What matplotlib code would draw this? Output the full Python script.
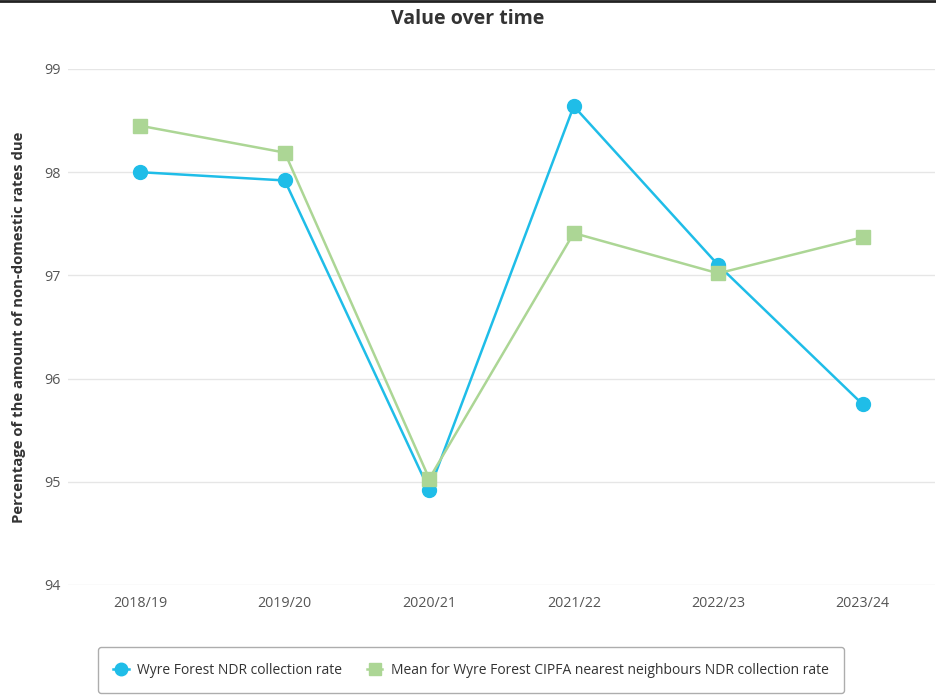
import matplotlib
matplotlib.use("Agg")
from matplotlib import pyplot as plt
from matplotlib.lines import Line2D

plt.rcParams['font.family'] = ['Open Sans', 'DejaVu Sans']

years = ['2018/19', '2019/20', '2020/21', '2021/22', '2022/23', '2023/24']
wyre = [98.00, 97.92, 94.92, 98.64, 97.10, 95.75]
mean_nn = [98.45, 98.19, 95.03, 97.41, 97.02, 97.37]
yticks = [94, 95, 96, 97, 98, 99]

blue = '#1fbde8'
green = '#acd695'

fig = plt.figure(figsize=(9.36, 6.97), dpi=100)
ax = fig.add_axes([68 / 936, 1 - 585 / 697, (935 - 68) / 936, (585 - 69) / 697])

x = list(range(len(years)))
ax.plot(x, wyre, color=blue, lw=1.8, marker='o', ms=10, zorder=3)
ax.plot(x, mean_nn, color=green, lw=1.8, marker='s', ms=10, zorder=4)

ax.set_xlim(-0.5, len(years) - 0.5)
ax.set_ylim(94, 99)
ax.set_xticks(x)
ax.set_xticklabels(years)
ax.set_yticks(yticks)
ax.grid(axis='y', color='#e6e6e6', lw=1)
ax.set_axisbelow(True)
for s in ax.spines.values():
    s.set_visible(False)
ax.tick_params(length=0, labelsize=10.3, colors='#555555', pad=8)
ax.tick_params(axis='y', pad=5)

# подпись оси y отдельно, чтобы не обрезалась
fig.text(19 / 936, 1 - 327 / 697, 'Percentage of the amount of non-domestic rates due',
         rotation=90, ha='center', va='center',
         fontsize=10.7, fontweight='bold', color='#333333')

fig.text(0.5, 1 - 19 / 697, 'Value over time', ha='center', va='center',
         fontsize=14, fontweight='bold', color='#333333')

# линия сверху
fig.add_artist(Line2D([0, 1], [0.998, 0.998], color='#222222', lw=2))

handles = [Line2D([], [], color=blue, lw=1.8, marker='o', ms=9),
           Line2D([], [], color=green, lw=1.8, marker='s', ms=9)]
labels = ['Wyre Forest NDR collection rate',
          'Mean for Wyre Forest CIPFA nearest neighbours NDR collection rate']
leg = fig.legend(handles, labels, loc='center', bbox_to_anchor=(471 / 936, 1 - 670 / 697),
                 ncol=2, frameon=True, fontsize=10, handlelength=1.1, handletextpad=0.6,
                 columnspacing=1.8, borderpad=1.1, borderaxespad=0,
                 labelcolor='#333333')
leg.get_frame().set_edgecolor('#999999')
leg.get_frame().set_linewidth(1)

fig.savefig('out.png', dpi=100)
